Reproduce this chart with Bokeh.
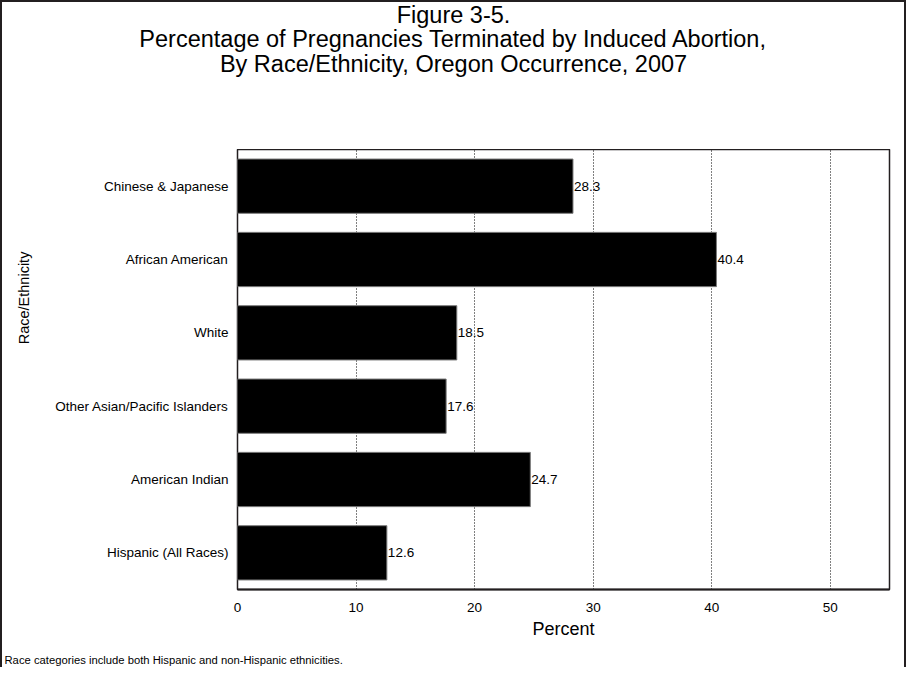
import math
from bokeh.plotting import figure
from bokeh.layouts import column, row
from bokeh.models import FactorRange, Range1d, FixedTicker, ColumnDataSource
from bokeh.embed import file_html
from bokeh.resources import INLINE
from bokeh.core.properties import value

categories = ["Chinese & Japanese", "African American", "White",
              "Other Asian/Pacific Islanders", "American Indian", "Hispanic (All Races)"]
percent = [28.3, 40.4, 18.5, 17.6, 24.7, 12.6]
x_ticks = [0, 10, 20, 30, 40, 50]

title_lines = ["Figure 3-5.",
               "Percentage of Pregnancies Terminated by Induced Abortion,",
               "By Race/Ethnicity, Oregon Occurrence, 2007"]
y_title = "Race/Ethnicity"
x_title = "Percent"
footnote = "Race categories include both Hispanic and non-Hispanic ethnicities."

FONT = "Liberation Sans"
INNER_W = 902
BORDER = "2px solid #231f20"


def blank(width, height):
    f = figure(width=width, height=height, output_backend="svg", toolbar_location=None,
               x_axis_type=None, y_axis_type=None,
               x_range=Range1d(0, width), y_range=Range1d(height, 0),
               min_border=0, min_border_left=0, min_border_right=0,
               min_border_top=0, min_border_bottom=0)
    f.outline_line_color = None
    f.background_fill_color = "white"
    f.border_fill_color = "white"
    f.grid.visible = False
    return f


# ---- title block ----
title_fig = blank(INNER_W, 147)
title_fig.text(x=[451] * 3, y=[12, 36.5, 61], text=title_lines,
               text_align="center", text_baseline="alphabetic",
               text_font=value(FONT), text_font_size="23.5px", text_color="black")

# ---- side block with y title ----
side_fig = blank(50, 495)
side_fig.text(x=[21], y=[167], text=[y_title], angle=math.pi / 2,
              text_align="center", text_baseline="middle",
              text_font=value(FONT), text_font_size="14.5px", text_color="black")

# ---- main chart ----
src = ColumnDataSource(dict(cat=categories, val=percent, lab=[f"{v:.1f}" for v in percent]))

p = figure(width=INNER_W - 50, height=495, output_backend="svg", toolbar_location=None,
           y_range=FactorRange(factors=list(reversed(categories))),
           x_range=Range1d(0, 55),
           min_border_left=185, min_border_right=15, min_border_top=0, min_border_bottom=55)

p.hbar(y="cat", right="val", left=0, height=0.74, source=src,
       fill_color="black", line_color="#7a7a7a", line_width=1)
p.text(x="val", y="cat", text="lab", source=src, x_offset=1,
       text_baseline="middle", text_align="left",
       text_font=value(FONT), text_font_size="13.5px", text_color="black")

p.outline_line_color = "#231f20"
p.outline_line_width = 1.5

p.xaxis.ticker = FixedTicker(ticks=x_ticks)
p.xgrid.ticker = FixedTicker(ticks=x_ticks)
p.xgrid.grid_line_color = "black"
p.xgrid.grid_line_dash = "1 2"
p.xgrid.grid_line_width = 1
p.ygrid.grid_line_color = None

for ax in (p.xaxis[0], p.yaxis[0]):
    ax.major_tick_line_color = None
    ax.minor_tick_line_color = None
    ax.major_tick_out = 0
    ax.major_tick_in = 0
    ax.major_label_text_font = FONT
    ax.major_label_text_font_size = "13.5px"
    ax.major_label_text_color = "black"

p.xaxis.axis_line_color = "#231f20"
p.xaxis.axis_line_width = 2
p.xaxis.major_label_standoff = 13
p.xaxis.axis_label = x_title
p.xaxis.axis_label_text_font = FONT
p.xaxis.axis_label_text_font_size = "18px"
p.xaxis.axis_label_text_font_style = "normal"
p.xaxis.axis_label_text_color = "black"
p.xaxis.axis_label_standoff = 4

p.yaxis.axis_line_color = None
p.yaxis.major_label_standoff = 9

# ---- footnote ----
foot_fig = blank(INNER_W, 23)
foot_fig.text(x=[2], y=[15], text=[footnote],
              text_align="left", text_baseline="middle",
              text_font=value(FONT), text_font_size="11.25px", text_color="black")

layout = column(title_fig, row(side_fig, p, spacing=0), foot_fig, spacing=0,
                styles={"border-left": BORDER, "border-top": BORDER, "border-right": BORDER,
                        "background-color": "white"})

open("out.html", "w").write(file_html(layout, INLINE))
